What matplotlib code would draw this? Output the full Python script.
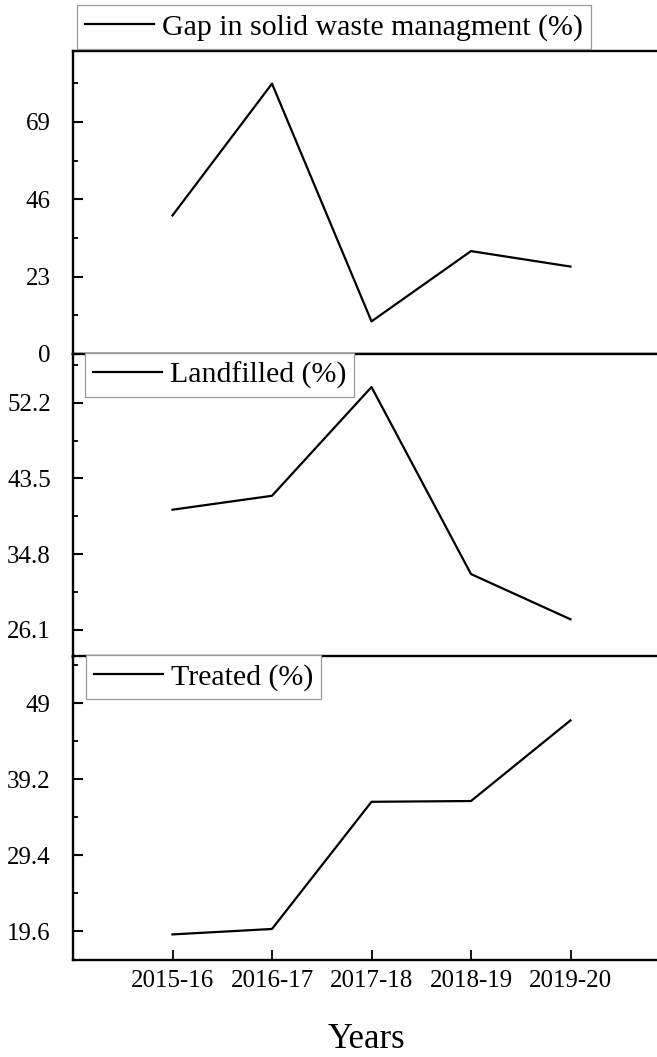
import numpy as np
import matplotlib
matplotlib.use("Agg")
import matplotlib.pyplot as plt
from matplotlib.ticker import FixedLocator

plt.rcParams["font.family"] = ["Liberation Serif", "DejaVu Serif"]

# data
years = ["2015-16", "2016-17", "2017-18", "2018-19", "2019-20"]
gap = [41.2, 80.4, 9.7, 30.6, 26.0]
landfilled = [39.9, 41.5, 54.0, 32.5, 27.3]
treated = [19.2, 19.9, 36.3, 36.4, 46.8]

gap_ticks = [0, 23, 46, 69]
land_ticks = [26.1, 34.8, 43.5, 52.2]
treat_ticks = [19.6, 29.4, 39.2, 49]

W, H = 657, 1057
fig = plt.figure(figsize=(W / 100, H / 100), dpi=100)


def add_ax(top_px, bot_px):
    left = 73 / W
    width = 597 / W
    return fig.add_axes([left, 1 - bot_px / H, width, (bot_px - top_px) / H])


ax0 = add_ax(50.7, 354)
ax1 = add_ax(354, 656.7)
ax2 = add_ax(656, 960)

x = np.arange(1, len(years) + 1)

panels = [
    (ax0, gap, "Gap in solid waste managment (%)", gap_ticks, 11.5, (0, 90.2)),
    (ax1, landfilled, "Landfilled (%)", land_ticks, 4.35, (23.0, 57.8)),
    (ax2, treated, "Treated (%)", treat_ticks, 4.9, (15.9, 55.1)),
]

handles = []
for ax, vals, lab, ticks, half, lim in panels:
    ln, = ax.plot(x, vals, color="black", lw=1.6, label=lab)
    handles.append(ln)
    ax.set_xlim(0, 6)
    ax.set_ylim(*lim)
    ax.set_yticks(ticks)
    ax.set_yticklabels([f"{t:g}" for t in ticks])
    minors = [t + half for t in ticks] + [ticks[0] - half]
    ax.yaxis.set_minor_locator(FixedLocator([m for m in minors if lim[0] <= m <= lim[1]]))
    ax.tick_params(axis="y", which="major", direction="in", length=7, width=1.5,
                   labelsize=18, pad=16)
    ax.tick_params(axis="y", which="minor", direction="in", length=3.5, width=1.3)
    for s in ["left", "bottom", "top"]:
        ax.spines[s].set_linewidth(1.7)
    ax.spines["right"].set_visible(False)

for ax in (ax0, ax1):
    ax.set_xticks([])

ax2.set_xticks(x)
ax2.set_xticklabels(years)
ax2.tick_params(axis="x", direction="in", length=7, width=1.3, labelsize=18, pad=7)

leg_kw = dict(loc="lower left", frameon=True, fancybox=False, borderaxespad=0,
              fontsize=21.5, handlelength=2.3, handletextpad=0.25, borderpad=0.28)

lg0 = fig.legend(handles=[handles[0]], bbox_to_anchor=(77 / W, 1 - 49 / H), **leg_kw)
lg1 = fig.legend(handles=[handles[1]], bbox_to_anchor=(85 / W, 1 - 397 / H), **leg_kw)
lg2 = fig.legend(handles=[handles[2]], bbox_to_anchor=(86 / W, 1 - 699 / H), **leg_kw)
for lg in (lg0, lg1, lg2):
    fr = lg.get_frame()
    fr.set_edgecolor("#999999")
    fr.set_linewidth(0.9)
    fr.set_facecolor("white")
    fr.set_alpha(1)

fig.text(366 / W, 1 - 1039 / H, "Years", ha="center", va="center", fontsize=25)

fig.savefig("out.png", dpi=100)
